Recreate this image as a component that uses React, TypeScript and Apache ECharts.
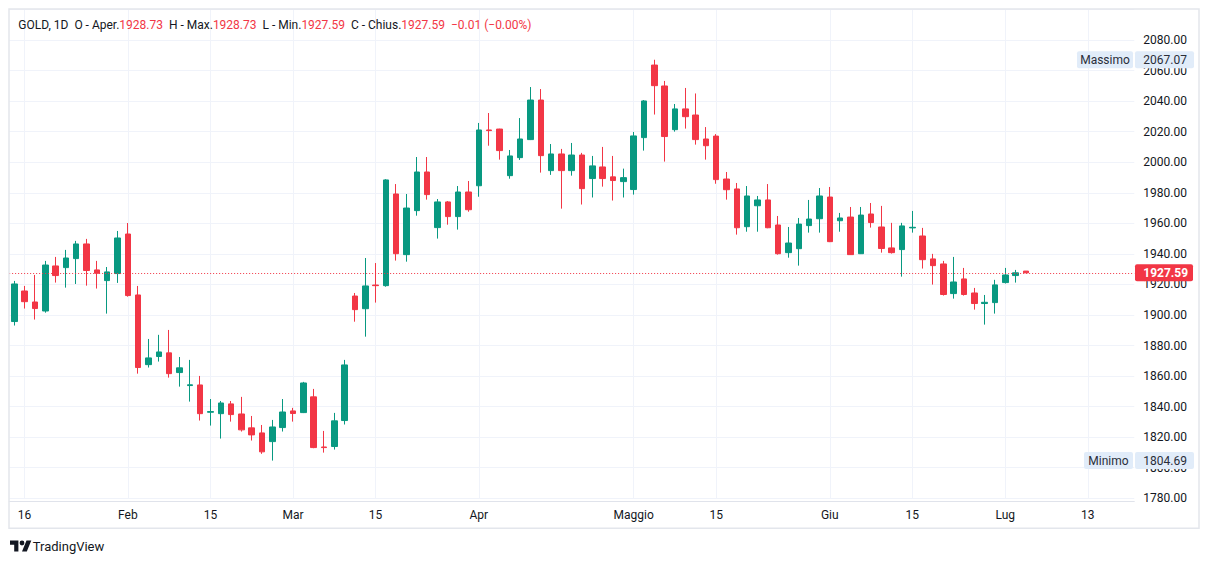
import React, { useEffect, useRef } from "react";
import * as echarts from "echarts";

// ---- Data (GOLD, 1D) ----
const openValues = [
  1895.7, 1915.7, 1908.5, 1902.6, 1932.1, 1931.0, 1936.9, 1946.5, 1929.5, 1922.5,
  1927.1, 1953.0, 1913.1, 1867.5, 1872.8, 1875.2, 1862.3, 1853.8, 1854.2, 1836.3,
  1835.4, 1841.8, 1835.2, 1826.1, 1822.8, 1817.1, 1826.3, 1837.2, 1836.1, 1846.4,
  1813.6, 1813.9, 1830.9, 1912.4, 1904.1, 1919.6, 1919.2, 1979.2, 1939.5, 1968.3,
  1993.6, 1957.2, 1974.0, 1964.4, 1980.5, 1984.6, 2021.1, 2021.7, 1991.2, 2003.0,
  2014.8, 2040.7, 1994.5, 2005.4, 1994.5, 2004.7, 1989.3, 1996.9, 1990.4, 1987.3,
  1982.1, 2016.1, 2063.6, 2049.9, 2021.3, 2034.9, 2030.9, 2015.2, 2017.1, 1989.0,
  1982.5, 1957.8, 1971.5, 1975.3, 1958.9, 1940.8, 1943.4, 1958.5, 1963.0, 1977.2,
  1961.7, 1964.1, 1940.1, 1966.1, 1957.6, 1943.9, 1942.8, 1957.0, 1951.7, 1936.7,
  1933.4, 1914.0, 1923.6, 1914.4, 1907.5, 1908.1, 1921.2, 1925.8, 1928.73,
];
const closeValues = [
  1920.3, 1908.7, 1904.2, 1932.7, 1925.8, 1937.3, 1946.5, 1929.1, 1927.3, 1928.2,
  1950.4, 1912.7, 1865.6, 1871.9, 1875.8, 1861.6, 1865.4, 1854.3, 1835.4, 1836.8,
  1842.4, 1834.8, 1824.8, 1821.5, 1810.4, 1826.7, 1836.5, 1835.5, 1855.5, 1813.2,
  1813.2, 1830.7, 1867.3, 1903.5, 1919.0, 1919.2, 1988.4, 1940.1, 1970.0, 1993.6,
  1978.8, 1974.0, 1964.4, 1980.5, 1968.9, 2021.1, 2020.7, 2007.6, 2004.1, 2015.2,
  2040.7, 2004.3, 2005.4, 1994.5, 2004.7, 1982.7, 1997.6, 1989.3, 1988.0, 1989.9,
  2017.2, 2040.1, 2050.1, 2016.8, 2034.9, 2029.8, 2014.8, 2010.8, 1988.6, 1982.0,
  1957.1, 1977.9, 1975.3, 1957.1, 1940.1, 1947.1, 1959.5, 1962.8, 1977.9, 1948.0,
  1963.5, 1939.5, 1965.4, 1960.5, 1943.5, 1940.8, 1958.3, 1957.4, 1936.2, 1932.3,
  1913.4, 1921.6, 1913.4, 1907.5, 1908.3, 1919.7, 1926.2, 1927.6, 1927.59,
];
const lowValues = [
  1893.1, 1904.2, 1897.0, 1901.5, 1921.2, 1917.9, 1920.3, 1919.2, 1917.3, 1900.9,
  1921.0, 1912.0, 1861.6, 1865.6, 1869.5, 1859.0, 1853.1, 1843.3, 1830.9, 1827.6,
  1819.1, 1830.2, 1823.7, 1817.8, 1809.1, 1804.69, 1823.7, 1830.2, 1835.8, 1812.8,
  1809.9, 1811.9, 1828.3, 1895.6, 1885.8, 1908.1, 1918.5, 1935.6, 1934.9, 1965.0,
  1975.5, 1950.0, 1959.1, 1955.9, 1967.6, 1977.4, 2010.8, 2001.7, 1989.2, 2001.5,
  2014.5, 1993.2, 1991.7, 1969.6, 1991.2, 1972.3, 1976.9, 1984.0, 1974.9, 1976.9,
  1978.8, 2007.6, 2031.2, 2000.4, 2020.0, 2022.0, 2011.5, 2001.7, 1985.9, 1975.5,
  1952.6, 1954.5, 1954.5, 1956.8, 1939.5, 1937.5, 1932.3, 1953.9, 1953.9, 1947.7,
  1954.5, 1939.3, 1939.9, 1957.2, 1940.8, 1940.2, 1925.1, 1953.9, 1930.4, 1919.9,
  1912.7, 1910.7, 1912.7, 1903.5, 1893.7, 1900.9, 1920.6, 1921.2, 1927.59,
];
const highValues = [
  1922.3, 1919.0, 1926.2, 1935.4, 1938.0, 1942.6, 1948.5, 1949.8, 1935.4, 1931.4,
  1955.0, 1960.2, 1919.0, 1884.3, 1887.0, 1890.2, 1872.5, 1870.6, 1860.1, 1845.0,
  1843.7, 1843.7, 1846.4, 1833.9, 1828.0, 1831.3, 1845.0, 1839.2, 1856.2, 1851.6,
  1824.1, 1835.9, 1870.6, 1914.4, 1937.3, 1934.0, 1988.9, 1985.7, 1979.2, 2003.4,
  2003.4, 1975.9, 1974.6, 1984.4, 1987.7, 2025.7, 2032.2, 2021.9, 2008.0, 2028.9,
  2049.2, 2047.9, 2011.9, 2008.7, 2012.6, 2006.1, 2004.1, 2010.0, 2004.1, 1995.8,
  2019.8, 2040.7, 2067.07, 2053.2, 2038.1, 2048.6, 2045.0, 2023.0, 2018.4, 1993.6,
  1986.4, 1984.4, 1977.9, 1985.7, 1964.8, 1957.6, 1963.5, 1975.3, 1983.1, 1983.8,
  1966.8, 1970.7, 1970.7, 1973.3, 1971.4, 1960.3, 1960.3, 1968.1, 1957.0, 1940.0,
  1935.4, 1938.0, 1930.8, 1917.7, 1913.1, 1923.0, 1930.8, 1929.5, 1928.73,
];

const barCount = 109; // trading days shown incl. empty right margin
const categories = Array.from({ length: barCount }, (_, i) => String(i));
const tickIndex = [1, 11, 19, 27, 35, 45, 60, 68, 79, 87, 96, 104];
const tickLabels = ["16", "Feb", "15", "Mar", "15", "Apr", "Maggio", "15", "Giu", "15", "Lug", "13"];
const yMin = 1780;
const yMax = 2100;
const yStep = 20;

const UP = "#089981";
const DOWN = "#F23645";
const TEXT = "#131722";
const GRIDC = "#f0f3fa";
const FONT = "Roboto, sans-serif";

const TV_LOGO_PATH =
  "M14 22H7V11H0V4h14v18zM28 22h-8l7.5-18h8L28 22zM24 8a4 4 0 1 1-8 0a4 4 0 1 1 8 0z";
echarts.graphic.registerShape("tvlogo", echarts.graphic.extendPath(TV_LOGO_PATH, {}));

const fmt = (v: number) => v.toFixed(2);
const signed = (v: number) => (v < 0 ? "\u2212" : "+") + Math.abs(v).toFixed(2);

export default function App() {
  const ref = useRef<HTMLDivElement>(null);

  useEffect(() => {
    const chart = echarts.init(ref.current!, null, { renderer: "svg" });
    const candles = openValues.map((o, i) => [o, closeValues[i], lowValues[i], highValues[i]]);
    const n = closeValues.length;
    const last = n - 1;
    const lastPrice = closeValues[last];
    const change = closeValues[last] - closeValues[last - 1];
    const pct = (change / closeValues[last - 1]) * 100;
    const highest = Math.max(...highValues);
    const lowest = Math.min(...lowValues);

    chart.setOption({
      animation: false,
      grid: { left: 1.14, right: 66.7, top: 1.44, bottom: 57.7 },
      xAxis: {
        type: "category",
        data: categories,
        boundaryGap: true,
        offset: 2.7,
        axisLine: { lineStyle: { color: "#e0e3eb", width: 1 } },
        axisTick: { show: false },
        splitLine: { show: false },
        axisLabel: {
          interval: (idx: number) => tickIndex.includes(idx),
          formatter: (_v: string, idx: number) => {
            const k = tickIndex.indexOf(idx);
            return k >= 0 ? tickLabels[k] : "";
          },
          color: TEXT,
          fontFamily: FONT,
          fontSize: 12,
          margin: 8,
        },
      },
      yAxis: {
        type: "value",
        position: "right",
        min: yMin,
        max: yMax,
        interval: yStep,
        scale: true,
        axisLine: { show: false },
        axisTick: { show: false },
        splitLine: { lineStyle: { color: GRIDC, width: 1 } },
        axisLabel: {
          showMaxLabel: false,
          formatter: (v: number) => v.toFixed(2),
          color: TEXT,
          fontFamily: FONT,
          fontSize: 12,
          margin: 9,
        },
      },
      series: [
        {
          type: "line",
          data: closeValues,
          symbol: "none",
          silent: true,
          z: 0,
          lineStyle: { opacity: 0, width: 0 },
          markLine: {
            silent: true,
            z: 0,
            symbol: ["none", "none"],
            label: { show: false },
            lineStyle: { color: GRIDC, type: "solid", width: 1 },
            data: tickIndex.map((i) => ({ xAxis: i })),
          },
        },
        {
          type: "candlestick",
          data: candles,
          barWidth: 6,
          z: 3,
          itemStyle: {
            color: UP,
            color0: DOWN,
            borderColor: UP,
            borderColor0: DOWN,
            borderWidth: 1,
          },
          markLine: {
            silent: true,
            z: 5,
            symbol: ["none", "none"],
            label: { show: false },
            lineStyle: { color: DOWN, type: [1, 2], width: 1 },
            data: [{ yAxis: lastPrice }],
          },
        },
      ],
    });

    const yOf = (v: number) => chart.convertToPixel({ yAxisIndex: 0 }, v) as number;
    const labelX = 1135.3;
    const box = (x: number, w: number, yc: number, fill: string, text: string, color: string, tx: number, align: string, weight = "normal") => ({
      type: "group",
      z: 100,
      children: [
        { type: "rect", z: 100, shape: { x, y: yc - 8.5, width: w, height: 17, r: 2 }, style: { fill } },
        {
          type: "text",
          z: 101,
          x: tx,
          y: yc,
          style: {
            text,
            fill: color,
            font: `${weight} 12px ${FONT}`,
            align,
            verticalAlign: "middle",
            textAlign: align,
            textVerticalAlign: "middle",
          },
        },
      ],
    });

    const yHi = yOf(highest);
    const yLo = yOf(lowest);
    const yLast = yOf(lastPrice);
    const BOXBG = "#e1ecf9";
    const BOXTXT = "#2a2e39";

    chart.setOption({
      graphic: [
        {
          type: "rect",
          z: 90,
          shape: { x: 1, y: 1, width: 1190, height: 519.3 },
          style: { fill: "none", stroke: "#e3e6ec", lineWidth: 1.5 },
        },
        {
          type: "text",
          z: 100,
          x: 10.3,
          y: 17,
          style: {
            text:
              `GOLD, 1D  O - Aper.{v|${fmt(openValues[last])}}  H - Max.{v|${fmt(highValues[last])}}  ` +
              `L - Min.{v|${fmt(lowValues[last])}}  C - Chius.{v|${fmt(closeValues[last])}}  ` +
              `{v|${signed(change)} (${signed(pct)}%)}`,
            fill: TEXT,
            font: `12px ${FONT}`,
            verticalAlign: "middle",
            textVerticalAlign: "middle",
            rich: {
              v: { fill: DOWN, font: `12px ${FONT}` },
            },
          },
        },
        box(1069, 56, yHi, BOXBG, "Massimo", BOXTXT, 1097, "center"),
        box(1127, 59, yHi, BOXBG, fmt(highest), BOXTXT, labelX, "left"),
        box(1076, 49, yLo, BOXBG, "Minimo", BOXTXT, 1100.5, "center"),
        box(1127, 59, yLo, BOXBG, fmt(lowest), BOXTXT, labelX, "left"),
        box(1127, 58, yLast, DOWN, fmt(lastPrice), "#ffffff", labelX, "left", "bold"),
        {
          type: "tvlogo",
          z: 100,
          x: 2,
          y: 530.2,
          scaleX: 0.6,
          scaleY: 0.6,
          style: { fill: TEXT },
        },
        {
          type: "text",
          z: 100,
          x: 24.7,
          y: 538,
          style: {
            text: "TradingView",
            fill: TEXT,
            font: `13px ${FONT}`,
            verticalAlign: "middle",
            textVerticalAlign: "middle",
          },
        },
      ],
    });

    return () => chart.dispose();
  }, []);

  return <div ref={ref} style={{ width: 1193, height: 548 }} />;
}
